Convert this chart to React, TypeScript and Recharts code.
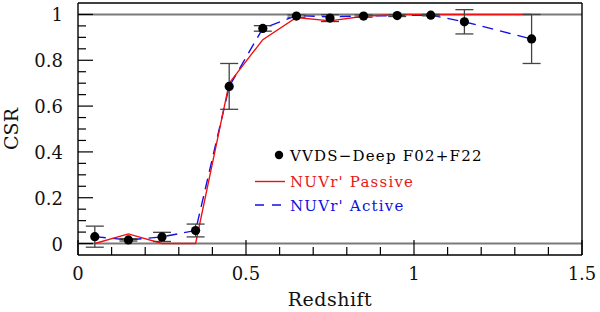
import {
  ComposedChart,
  Line,
  Scatter,
  ErrorBar,
  XAxis,
  YAxis,
  ReferenceLine,
} from "recharts";

// VVDS-Deep F02+F22 measurements (redshift bin centre, CSR, 1-sigma error)
const vvdsZ = [0.05, 0.15, 0.25, 0.35, 0.45, 0.55, 0.65, 0.75, 0.85, 0.95, 1.05, 1.15, 1.35];
const vvdsCsr = [0.03, 0.016, 0.029, 0.057, 0.686, 0.939, 0.993, 0.984, 0.993, 0.995, 0.997, 0.968, 0.893];
const vvdsErr = [0.046, 0.005, 0.02, 0.028, 0.1, 0.012, 0.005, 0.015, 0.005, 0.004, 0.003, 0.053, 0.107];

// NUVr' selected samples
const passiveZ = [0.05, 0.15, 0.25, 0.35, 0.45, 0.55, 0.65, 0.75, 0.85, 0.95, 1.05, 1.15, 1.35];
const passiveCsr = [0, 0.042, 0, 0, 0.7, 0.89, 0.987, 0.972, 0.992, 1, 1, 1, 1];
const activeZ = [0.05, 0.15, 0.25, 0.35, 0.45, 0.55, 0.65, 0.75, 0.85, 0.95, 1.05, 1.15, 1.35];
const activeCsr = [0.03, 0.016, 0.029, 0.057, 0.686, 0.939, 0.995, 0.99, 0.993, 0.995, 0.997, 0.968, 0.893];

// axis ticks
const xTicks = [0, 0.1, 0.2, 0.3, 0.4, 0.5, 0.6, 0.7, 0.8, 0.9, 1, 1.1, 1.2, 1.3, 1.4, 1.5];
const xMajor = [0, 0.5, 1, 1.5];
const yTicks = [0, 0.05, 0.1, 0.15, 0.2, 0.25, 0.3, 0.35, 0.4, 0.45, 0.5, 0.55, 0.6, 0.65, 0.7, 0.75, 0.8, 0.85, 0.9, 0.95, 1];
const yMajor = [0, 0.2, 0.4, 0.6, 0.8, 1];

const vvds = vvdsZ.map((x, i) => ({ x, y: vvdsCsr[i], err: vvdsErr[i] }));
const passive = passiveZ.map((x, i) => ({ x, y: passiveCsr[i] }));
const active = activeZ.map((x, i) => ({ x, y: activeCsr[i] }));

const FONT = '"DejaVu Serif", serif';
const MAJOR = 15;
const MINOR = 8;

const isMajor = (v: number, list: number[]) => list.some((m) => Math.abs(m - v) < 1e-6);

function BottomTick({ x, y, payload }: any) {
  const major = isMajor(payload.value, xMajor);
  return (
    <g>
      <line x1={x} x2={x} y1={y} y2={y - (major ? MAJOR : MINOR)} stroke="#000" strokeWidth={1.2} />
      {major && (
        <text x={x} y={y + 25} textAnchor="middle" fontFamily={FONT} fontSize={18} fill="#111">
          {String(payload.value)}
        </text>
      )}
    </g>
  );
}

function TopTick({ x, y, payload }: any) {
  const major = isMajor(payload.value, xMajor);
  return <line x1={x} x2={x} y1={y} y2={y + (major ? MAJOR : MINOR)} stroke="#000" strokeWidth={1.2} />;
}

function LeftTick({ x, y, payload }: any) {
  const major = isMajor(payload.value, yMajor);
  return (
    <g>
      <line x1={x} x2={x + (major ? MAJOR : MINOR)} y1={y} y2={y} stroke="#000" strokeWidth={1.2} />
      {major && (
        <text x={x - 15} y={y + 7} textAnchor="end" fontFamily={FONT} fontSize={18} fill="#111">
          {String(payload.value)}
        </text>
      )}
    </g>
  );
}

function RightTick({ x, y, payload }: any) {
  const major = isMajor(payload.value, yMajor);
  return <line x1={x} x2={x - (major ? MAJOR : MINOR)} y1={y} y2={y} stroke="#000" strokeWidth={1.2} />;
}

export default function App() {
  return (
    <div style={{ position: "absolute", left: 0, top: 0, width: 600, height: 312, background: "#fff" }}>
      <ComposedChart width={600} height={312} margin={{ top: 0, right: 0, bottom: 0, left: 18 }}>
        <XAxis
          xAxisId={0}
          dataKey="x"
          type="number"
          domain={[0, 1.5]}
          ticks={xTicks}
          interval={0}
          height={57}
          tickSize={0}
          tickMargin={0}
          tickLine={false}
          tick={<BottomTick />}
          axisLine={{ stroke: "#000", strokeWidth: 1.4 }}
        />
        <XAxis
          xAxisId="top"
          orientation="top"
          dataKey="x"
          type="number"
          domain={[0, 1.5]}
          ticks={xTicks}
          interval={0}
          height={3}
          tickSize={0}
          tickMargin={0}
          tickLine={false}
          tick={<TopTick />}
          axisLine={{ stroke: "#000", strokeWidth: 1.4 }}
        />
        <YAxis
          yAxisId={0}
          type="number"
          domain={[-0.05, 1.05]}
          ticks={yTicks}
          interval={0}
          width={60}
          tickSize={0}
          tickMargin={0}
          tickLine={false}
          tick={<LeftTick />}
          axisLine={{ stroke: "#000", strokeWidth: 1.4 }}
        />
        <YAxis
          yAxisId="right"
          orientation="right"
          type="number"
          domain={[-0.05, 1.05]}
          ticks={yTicks}
          interval={0}
          width={18}
          tickSize={0}
          tickMargin={0}
          tickLine={false}
          tick={<RightTick />}
          axisLine={{ stroke: "#000", strokeWidth: 1.4 }}
        />
        <ReferenceLine y={0} stroke="#7a7a7a" strokeWidth={2} />
        <ReferenceLine y={1} stroke="#7a7a7a" strokeWidth={2} />
        <Line
          data={active}
          dataKey="y"
          type="linear"
          stroke="#1010e8"
          strokeWidth={1.4}
          strokeDasharray="11 7"
          dot={false}
          isAnimationActive={false}
        />
        <Line
          data={passive}
          dataKey="y"
          type="linear"
          stroke="#f01010"
          strokeWidth={1.4}
          dot={false}
          isAnimationActive={false}
        />
        <Scatter
          data={vvds}
          dataKey="y"
          isAnimationActive={false}
          shape={(p: any) => <circle cx={p.cx} cy={p.cy} r={4.6} fill="#000" />}
        >
          <ErrorBar dataKey="err" direction="y" width={9} stroke="#444" strokeWidth={1.3} />
        </Scatter>
      </ComposedChart>

      {/* axis titles and legend */}
      <svg
        width={600}
        height={312}
        style={{ position: "absolute", left: 0, top: 0, pointerEvents: "none" }}
        fontFamily={FONT}
      >
        <text x={330} y={306} textAnchor="middle" fontSize={19} fill="#111" letterSpacing={0.5}>
          Redshift
        </text>
        <text x={18} y={129} textAnchor="middle" fontSize={19} fill="#111" transform="rotate(-90 18 129)">
          CSR
        </text>

        <circle cx={279} cy={155} r={4.2} fill="#000" />
        <text x={290} y={160.5} fontSize={15} fill="#000" letterSpacing={1.2}>VVDS−Deep F02+F22</text>
        <line x1={255} x2={285} y1={181.5} y2={181.5} stroke="#f01010" strokeWidth={1.4} />
        <text x={290} y={187} fontSize={15} fill="#e81818" letterSpacing={1.2}>NUVr' Passive</text>
        <line x1={255} x2={285} y1={205} y2={205} stroke="#1010e8" strokeWidth={1.4} strokeDasharray="9 8" />
        <text x={290} y={210.5} fontSize={15} fill="#1010e0" letterSpacing={1.2}>NUVr' Active</text>
      </svg>
    </div>
  );
}
